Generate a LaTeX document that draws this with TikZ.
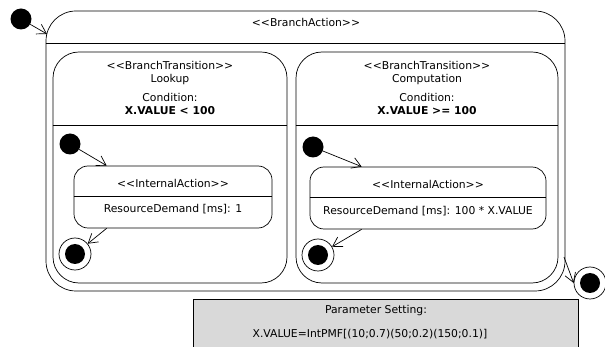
\documentclass[tikz,border=0pt]{standalone}
\usepackage{fontspec}
\setmainfont{DejaVu Sans}
\usetikzlibrary{arrows.meta}
\usetikzlibrary{positioning, calc}
\definecolor{paramGray}{HTML}{d9d9d9}

\tikzset{
  statebox/.style={draw, line width=0.7pt, inner sep=0pt},
  initstate/.style={circle, fill=black, minimum size=21pt, inner sep=0pt},
  finalstate/.style={circle, draw, line width=0.7pt, minimum size=32pt, inner sep=0pt,
    path picture={\fill[black] (path picture bounding box.center) circle (10pt);}},
  trans/.style={-{Straight Barb[length=9pt,width=11pt]}, line width=0.7pt},
  lbl/.style={inner sep=0pt, align=center}
}

\begin{document}
\begin{tikzpicture}[x=1pt,y=-1pt,font=\fontsize{10.8}{13}\selectfont]
        \useasboundingbox (0,0) rectangle (605,347);
        % outer branch action
        \node[statebox, rounded corners=30pt, minimum width=519pt, minimum height=280pt] (ba) at (305.5,151) {};
        \draw[line width=0.7pt] ([yshift=-33pt]ba.north west) -- ([yshift=-33pt]ba.north east);
        \node[lbl] (baT) at (306,22) {<{}<BranchAction>{}>};
        % the two branch transitions
        \node[statebox, rounded corners=26pt, minimum width=234pt, minimum height=231pt] (lb) at (170,167.5) {};
        \draw[line width=0.7pt] ([yshift=-74pt]lb.north west) -- ([yshift=-74pt]lb.north east);
        \node[lbl] (lbT) at (170,88) {<{}<BranchTransition>{}>\\Lookup\\[6pt]Condition:\\\bfseries X.VALUE < 100};
        \node[statebox, rounded corners=26pt, minimum width=262pt, minimum height=231pt] (rb) at (427,167.5) {};
        \draw[line width=0.7pt] ([yshift=-74pt]rb.north west) -- ([yshift=-74pt]rb.north east);
        \node[lbl] (rbT) at (427,88) {<{}<BranchTransition>{}>\\Computation\\[6pt]Condition:\\\bfseries X.VALUE >= 100};
        % internal actions
        \node[statebox, rounded corners=14pt, minimum width=198pt, minimum height=62pt] (lia) at (173,197) {};
        \draw[line width=0.7pt] ([yshift=-31pt]lia.north west) -- ([yshift=-31pt]lia.north east);
        \node[lbl] (liaT) at (173,183) {<{}<InternalAction>{}>};
        \node[lbl] (liaD) at (173,209.5) {ResourceDemand [ms]: 1};
        \node[statebox, rounded corners=14pt, minimum width=236pt, minimum height=62pt] (ria) at (428,198) {};
        \draw[line width=0.7pt] ([yshift=-31pt]ria.north west) -- ([yshift=-31pt]ria.north east);
        \node[lbl] (riaT) at (428,184) {<{}<InternalAction>{}>};
        \node[lbl] (riaD) at (428,211) {ResourceDemand [ms]: 100 * X.VALUE};
        % start and end states
        \node[initstate] (oi) at (21,19) {};
        \node[finalstate] (of) at (590,283) {};
        \node[initstate] (li) at (70,144) {};
        \node[finalstate] (lf) at (75,254) {};
        \node[initstate] (ri) at (313,147) {};
        \node[finalstate] (rf) at (318,255) {};
        \coordinate (baIn) at (47,34);
        \coordinate (baOut) at (564,257);
        % transitions
        \draw[trans] (oi) -- (baIn);
        \draw[trans] (baOut) -- (of.west);
        \draw[trans] (li) -- ([xshift=33pt]lia.north west);
        \draw[trans] ([xshift=33pt]lia.south west) -- (lf);
        \draw[trans] (ri) -- ([xshift=52pt]ria.north west);
        \draw[trans] ([xshift=52pt]ria.south west) -- (rf);
        % parameter setting
        \node[draw, line width=0.7pt, fill=paramGray, minimum width=385pt, minimum height=60pt, anchor=north west] (ps) at (193,299) {};
        \node[lbl] (psT) at (376,311) {Parameter Setting:};
        \node[lbl] (psV) at (370,334) {X.VALUE=IntPMF[(10;0.7)(50;0.2)(150;0.1)]};
      \end{tikzpicture}
\end{document}
